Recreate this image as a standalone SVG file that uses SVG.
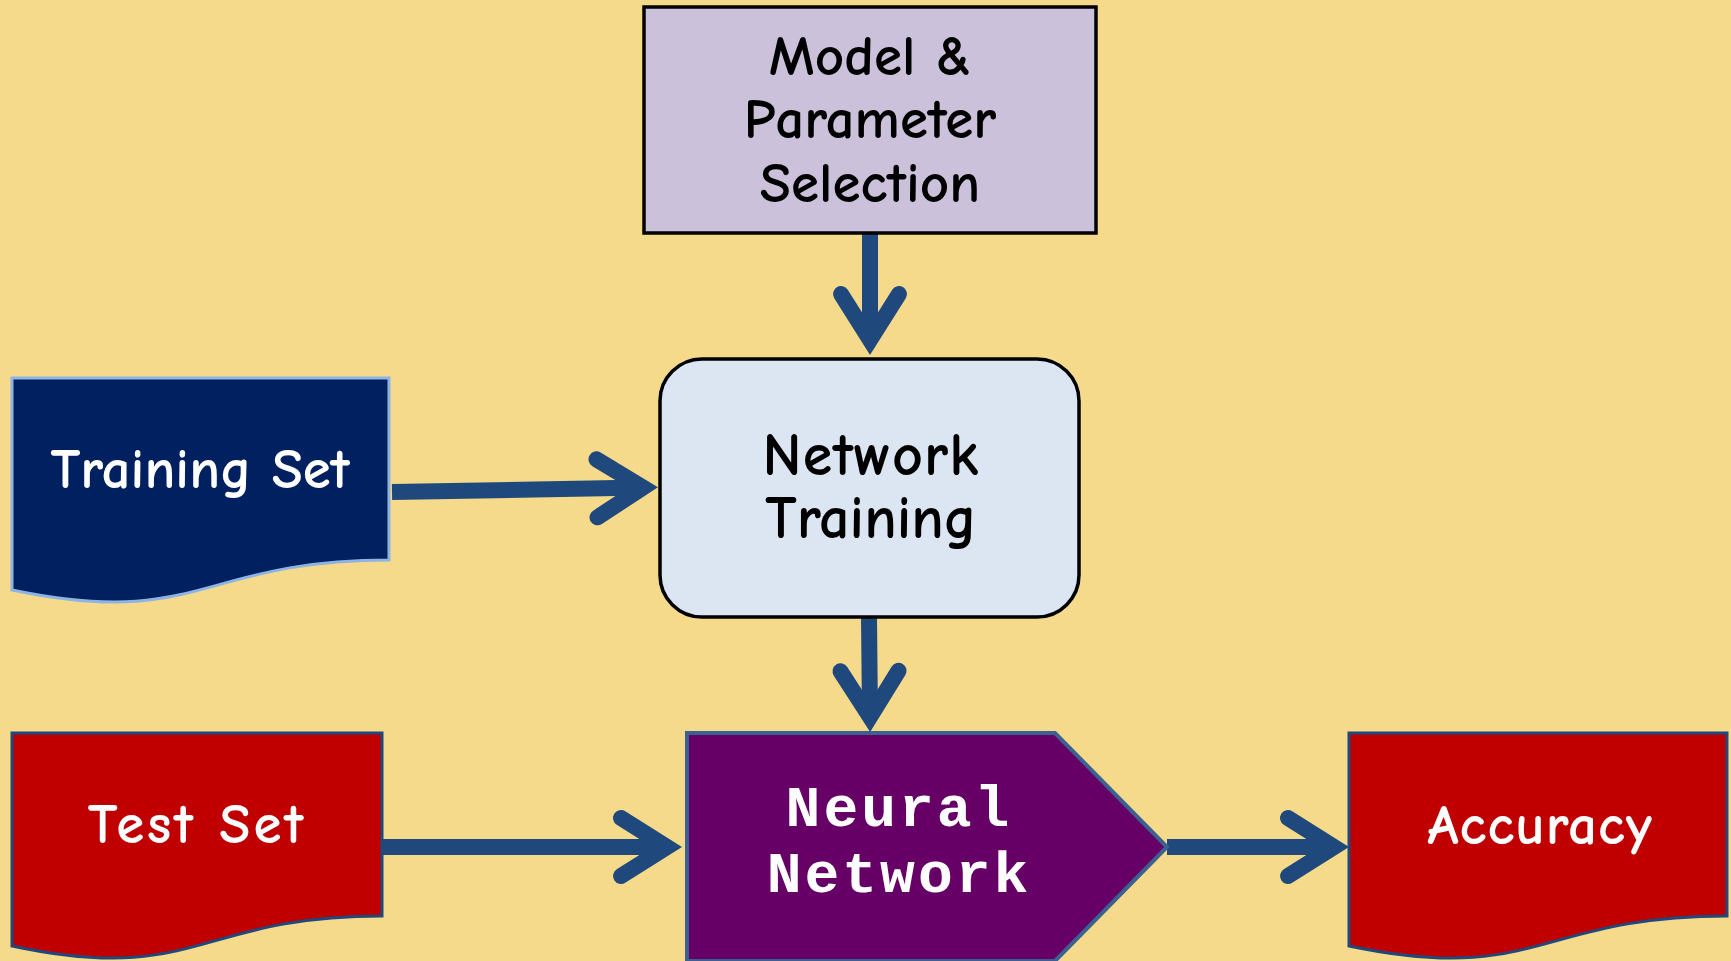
<svg xmlns="http://www.w3.org/2000/svg" width="1731" height="961" viewBox="0 0 1731 961">
  <style>
    .comic { font-family: "Comic Sans MS", "Comic Neue", "Noto Sans", "DejaVu Sans", sans-serif; font-weight: bold; text-anchor: middle; }
    .mono { font-family: "Courier New", "Liberation Mono", monospace; font-weight: bold; text-anchor: middle; letter-spacing: 3px; }
    .conn { fill: none; stroke: #1F497D; stroke-width: 16; stroke-linecap: butt; }
  </style>
  <defs>
    <marker id="head" markerUnits="userSpaceOnUse" orient="auto" refX="0" refY="0" markerWidth="120" markerHeight="120" viewBox="-60 -60 120 120" overflow="visible">
      <polyline points="-46,-29 0,0 -46,29" fill="none" stroke="#1F497D" stroke-width="16" stroke-linecap="round" stroke-linejoin="miter"/>
    </marker>
  </defs>
  <rect x="0" y="0" width="1731" height="961" fill="#F5DA8B"/>

  <g id="connectors">
    <path class="conn" d="M870,233 V340" marker-end="url(#head)"/>
    <path class="conn" d="M392,492 L643,487.5" marker-end="url(#head)"/>
    <path class="conn" d="M869,617 L870,717" marker-end="url(#head)"/>
    <path class="conn" d="M382,847 H667" marker-end="url(#head)"/>
    <path class="conn" d="M1167,847 H1334" marker-end="url(#head)"/>
  </g>

  <g id="model-selection">
    <rect x="644" y="7" width="452" height="226" fill="#CCC1DA" stroke="#000" stroke-width="3.5"/>
    <text class="comic" x="870" y="75" font-size="57" fill="#000">Model &amp;</text>
    <text class="comic" x="870" y="138" font-size="57" fill="#000">Parameter</text>
    <text class="comic" x="870" y="202" font-size="57" fill="#000">Selection</text>
  </g>

  <g id="network-training">
    <rect x="660" y="359" width="419" height="258" rx="42" ry="42" fill="#DCE6F2" stroke="#000" stroke-width="3.5"/>
    <text class="comic" x="871" y="475" font-size="60" fill="#000" letter-spacing="1">Network</text>
    <text class="comic" x="871" y="538" font-size="60" fill="#000">Training</text>
  </g>

  <g id="training-set">
    <path d="M12,378 H389 V560 C200.5,560 200.5,629.4 12,590 Z" fill="#002060" stroke="#8EB4E3" stroke-width="3"/>
    <text class="comic" x="200" y="488" font-size="57" fill="#fff">Training Set</text>
  </g>

  <g id="test-set">
    <path d="M12,733 H382 V916 C197,916 197,985.5 12,946 Z" fill="#C00000" stroke="#1F497D" stroke-width="3"/>
    <text class="comic" x="197" y="843" font-size="57" fill="#fff" letter-spacing="3">Test Set</text>
  </g>

  <g id="neural-network">
    <path d="M687,733 H1055 L1167,847 L1055,961 H687 Z" fill="#660066" stroke="#3A6190" stroke-width="4" stroke-linejoin="miter"/>
    <text class="mono" x="899" y="826" font-size="58" fill="#fff">Neural</text>
    <text class="mono" x="899" y="892" font-size="58" fill="#fff">Network</text>
  </g>

  <g id="accuracy">
    <path d="M1349,733 H1727 V916 C1538,916 1538,985.5 1349,946 Z" fill="#C00000" stroke="#1F497D" stroke-width="3"/>
    <text class="comic" x="1540" y="844" font-size="57" fill="#fff" letter-spacing="1">Accuracy</text>
  </g>
</svg>
